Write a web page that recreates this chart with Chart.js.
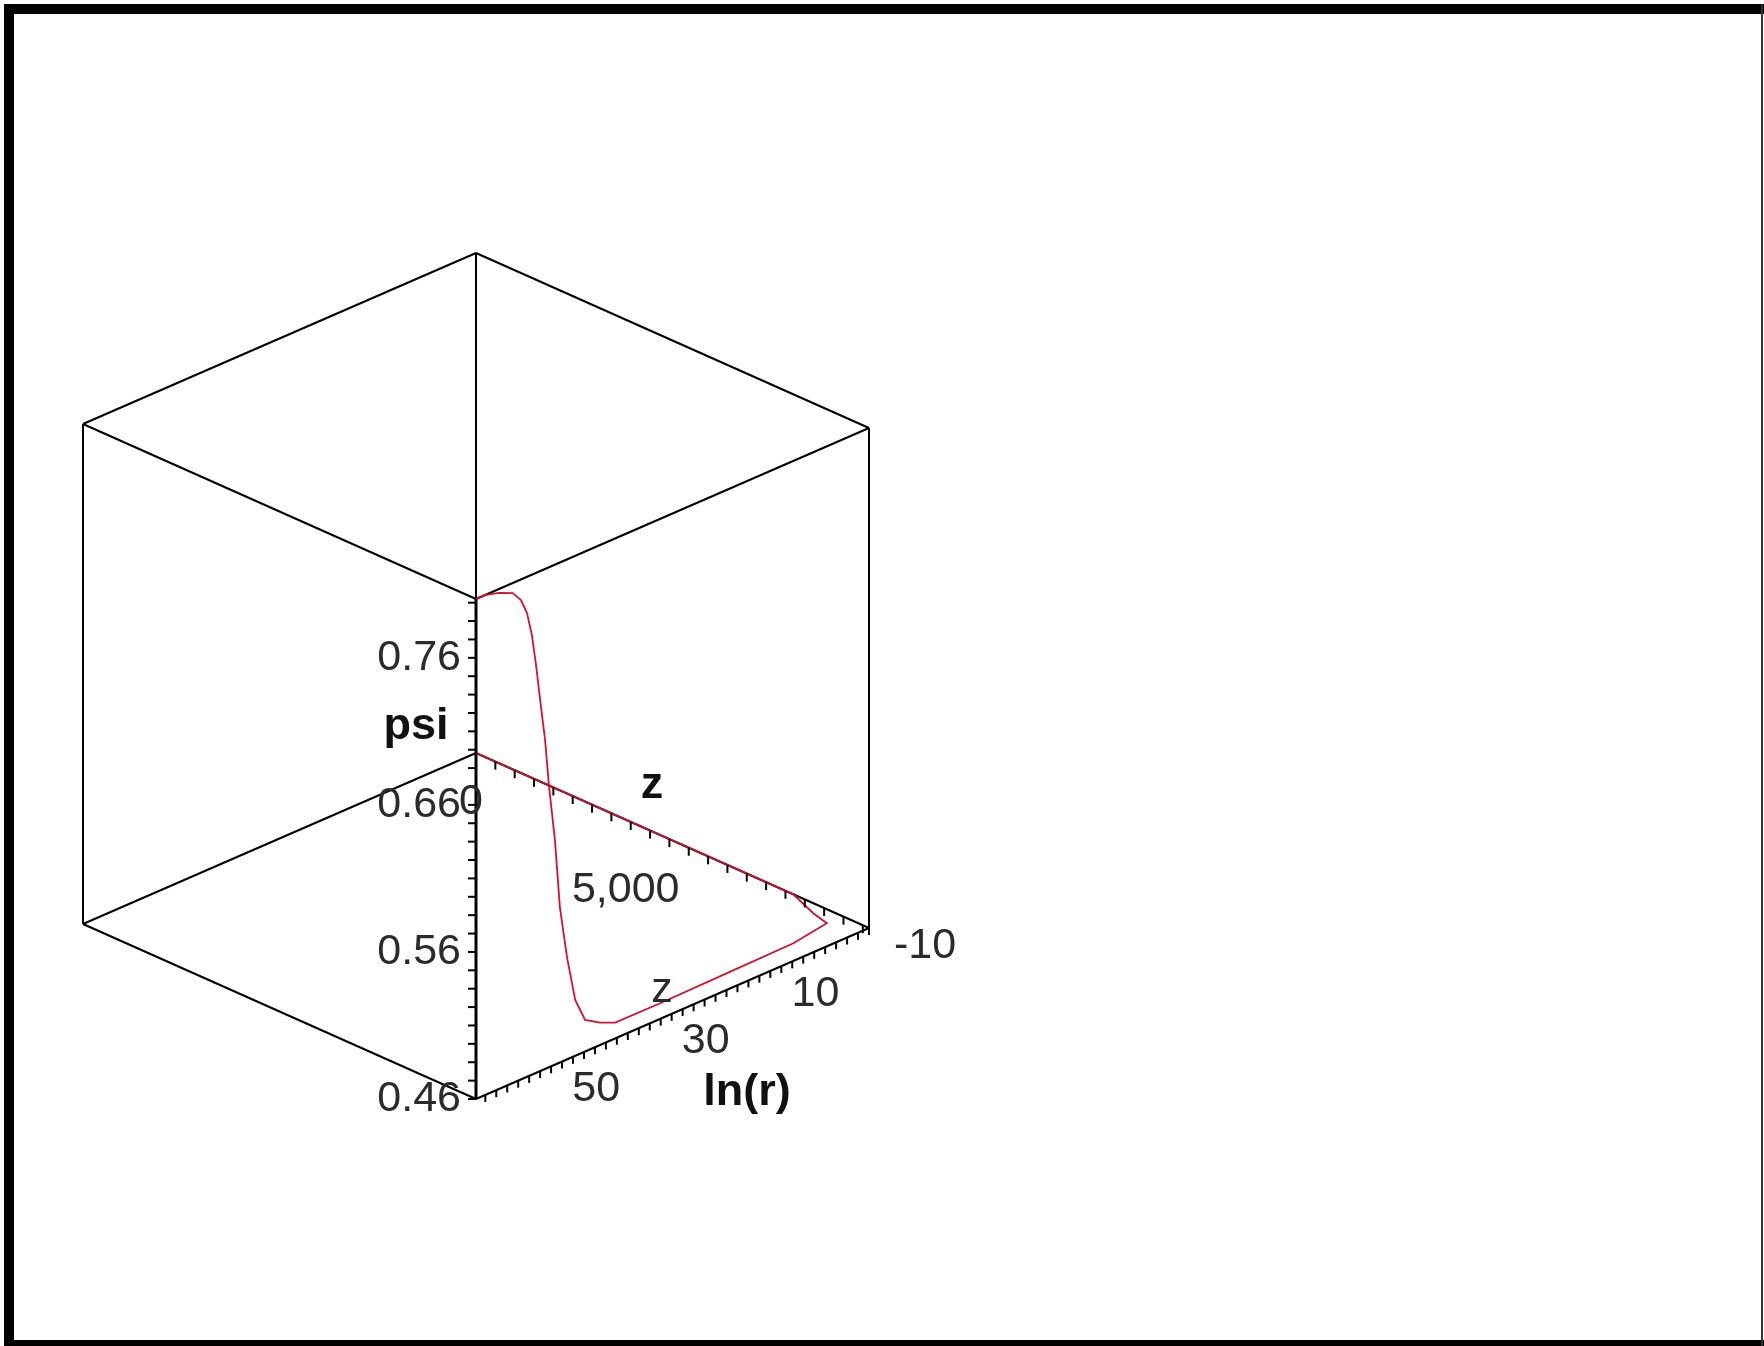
<!DOCTYPE html>
<html>
<head>
<meta charset="utf-8">
<title>psi(ln r, z)</title>
<script src="https://cdn.jsdelivr.net/npm/chart.js@4.4.1/dist/chart.umd.min.js"></script>
<style>
  html, body { margin: 0; padding: 0; background: #fff; }
  canvas { display: block; }
</style>
</head>
<body>
<canvas id="plot" width="1764" height="1346"></canvas>
<script>
// box ranges
var lnrRange = [-10, 61.7];
var zRange = [0, 12700];
var psiRange = [0.46, 0.80];

// tick labels and minor tick spacing
var lnrLabels = [-10, 10, 30, 50];
var zLabels = [0, 5000];
var psiLabels = [0.46, 0.56, 0.66, 0.76];
var lnrStep = 2, zStep = 625, psiStep = 0.0125;

// solution curve, starting at the origin of the z axis
var curveLnr = [-10, -10, -7, -2.3, 3.8, 16.0, 28.1, 36.3, 39.1, 41.8, 43.6, 45.1, 46.4,
                47.3, 48.4, 49.1, 50.0, 50.75, 51.5, 52.4, 53.5, 55.0, 57.5, 60.1, 61.7];
var curveZ = [0, 10250, 11430, 12700, 12700, 12700, 12700, 12700, 12700, 12700, 12700, 12700, 12700,
              12700, 12700, 12700, 12700, 12700, 12700, 12700, 12700, 12700, 12700, 12700, 12700];
var curvePsi = [0.46, 0.46, 0.463, 0.4757, 0.472, 0.4713, 0.4706, 0.4707, 0.4753, 0.4815, 0.498, 0.5296, 0.5657,
                0.6127, 0.6519, 0.6837, 0.7124, 0.7374, 0.7589, 0.7754, 0.786, 0.7931, 0.7973, 0.80, 0.80];

// oblique view: where (lnr min, z 0, psi min) sits and how each axis runs across the page
var view = { ox: 476, oy: 753, lnr: [-393, 171], z: [393, 175], psi: [0, -500] };

function frac(v, r) { return (v - r[0]) / (r[1] - r[0]); }
function project(l, z, p) {
  var a = frac(l, lnrRange), b = frac(z, zRange), c = frac(p, psiRange);
  return {
    x: view.ox + a * view.lnr[0] + b * view.z[0] + c * view.psi[0],
    y: view.oy + a * view.lnr[1] + b * view.z[1] + c * view.psi[1]
  };
}

// 12 box edges
var datasets = [];
var ranges = [lnrRange, zRange, psiRange];
for (var i = 0; i < 8; i++) {
  for (var k = 0; k < 3; k++) {
    if (i & (1 << k)) continue;
    var j = i | (1 << k);
    var p0 = [0, 1, 2].map(function (d) { return ranges[d][(i >> d) & 1]; });
    var p1 = [0, 1, 2].map(function (d) { return ranges[d][(j >> d) & 1]; });
    var psiAxis = (k === 2 && (i & 1) && (i & 2));
    datasets.push({
      data: [project(p0[0], p0[1], p0[2]), project(p1[0], p1[1], p1[2])],
      showLine: true, borderColor: '#000', borderWidth: psiAxis ? 3 : 2,
      pointRadius: 0, order: 2
    });
  }
}

datasets.push({
  data: curveLnr.map(function (l, n) { return project(l, curveZ[n], curvePsi[n]); }),
  showLine: true, borderColor: '#d3122f', borderWidth: 1.8,
  pointRadius: 0, tension: 0, order: 1
});

var titlePos = { psi: [416, 727], z: [652, 786], lnr: [747, 1093], zLow: [662, 990] };

var boxAxes = {
  id: 'boxAxes',
  beforeDraw: function (chart) {
    var ctx = chart.ctx;
    ctx.save();
    ctx.fillStyle = '#fff';
    ctx.fillRect(0, 0, chart.width, chart.height);
    ctx.fillStyle = '#000';
    ctx.fillRect(4, 4, 1760, 10);
    ctx.fillRect(4, 4, 10, 1342);
    ctx.fillRect(4, 1340, 1760, 6);
    ctx.fillStyle = '#333';
    ctx.fillRect(1761, 4, 2, 1342);
    ctx.restore();
  },
  afterDatasetsDraw: function (chart) {
    var ctx = chart.ctx, sx = chart.scales.x, sy = chart.scales.y;
    function at(p) { return [sx.getPixelForValue(p.x), sy.getPixelForValue(p.y)]; }
    function tick(p, dx, dy) {
      var q = at(p);
      ctx.beginPath();
      ctx.moveTo(q[0], q[1]);
      ctx.lineTo(q[0] + dx, q[1] + dy);
      ctx.stroke();
    }
    ctx.save();
    ctx.strokeStyle = '#000';
    ctx.lineWidth = 2;
    var v;
    for (v = psiRange[0]; v <= psiRange[1] + 1e-9; v += psiStep) tick(project(lnrRange[1], zRange[1], v), -8, 0);
    for (v = zRange[0]; v <= zRange[1]; v += zStep) tick(project(lnrRange[0], v, psiRange[0]), 0, 8);
    for (v = lnrLabels[0]; v <= lnrRange[1]; v += lnrStep) tick(project(v, zRange[1], psiRange[0]), 0, 7);

    ctx.fillStyle = '#2b2b2b';
    ctx.font = '43px "Liberation Sans", Arial, sans-serif';
    ctx.textBaseline = 'middle';
    ctx.textAlign = 'right';
    psiLabels.forEach(function (p) {
      var q = at(project(lnrRange[1], zRange[1], p));
      ctx.fillText(p.toFixed(2), q[0] - 15, q[1]);
    });
    ctx.textAlign = 'center';
    zLabels.forEach(function (z) {
      var q = at(project(lnrRange[0], z, psiRange[0]));
      // labels drift further below the axis as z grows
      ctx.fillText(z.toLocaleString('en-US'), q[0] - 5, q[1] + 49 + 48 * frac(z, zRange));
    });
    lnrLabels.forEach(function (l) {
      var q = at(project(l, zRange[1], psiRange[0]));
      ctx.fillText(String(l), q[0] + 56, q[1] + 18);
    });
    ctx.fillText('z', sx.getPixelForValue(titlePos.zLow[0]), sy.getPixelForValue(titlePos.zLow[1]));

    ctx.fillStyle = '#111';
    ctx.font = 'bold 45px "Liberation Sans", Arial, sans-serif';
    ctx.fillText('psi', sx.getPixelForValue(titlePos.psi[0]), sy.getPixelForValue(titlePos.psi[1]));
    ctx.fillText('z', sx.getPixelForValue(titlePos.z[0]), sy.getPixelForValue(titlePos.z[1]));
    ctx.fillText('ln(r)', sx.getPixelForValue(titlePos.lnr[0]), sy.getPixelForValue(titlePos.lnr[1]));
    ctx.restore();
  }
};

new Chart(document.getElementById('plot').getContext('2d'), {
  type: 'scatter',
  data: { datasets: datasets },
  options: {
    responsive: false,
    devicePixelRatio: 1,
    animation: false,
    layout: { padding: 0 },
    plugins: { legend: { display: false }, tooltip: { enabled: false } },
    scales: {
      x: { type: 'linear', min: 0, max: 1764, display: false },
      y: { type: 'linear', min: 0, max: 1346, reverse: true, display: false }
    }
  },
  plugins: [boxAxes]
});
</script>
</body>
</html>
